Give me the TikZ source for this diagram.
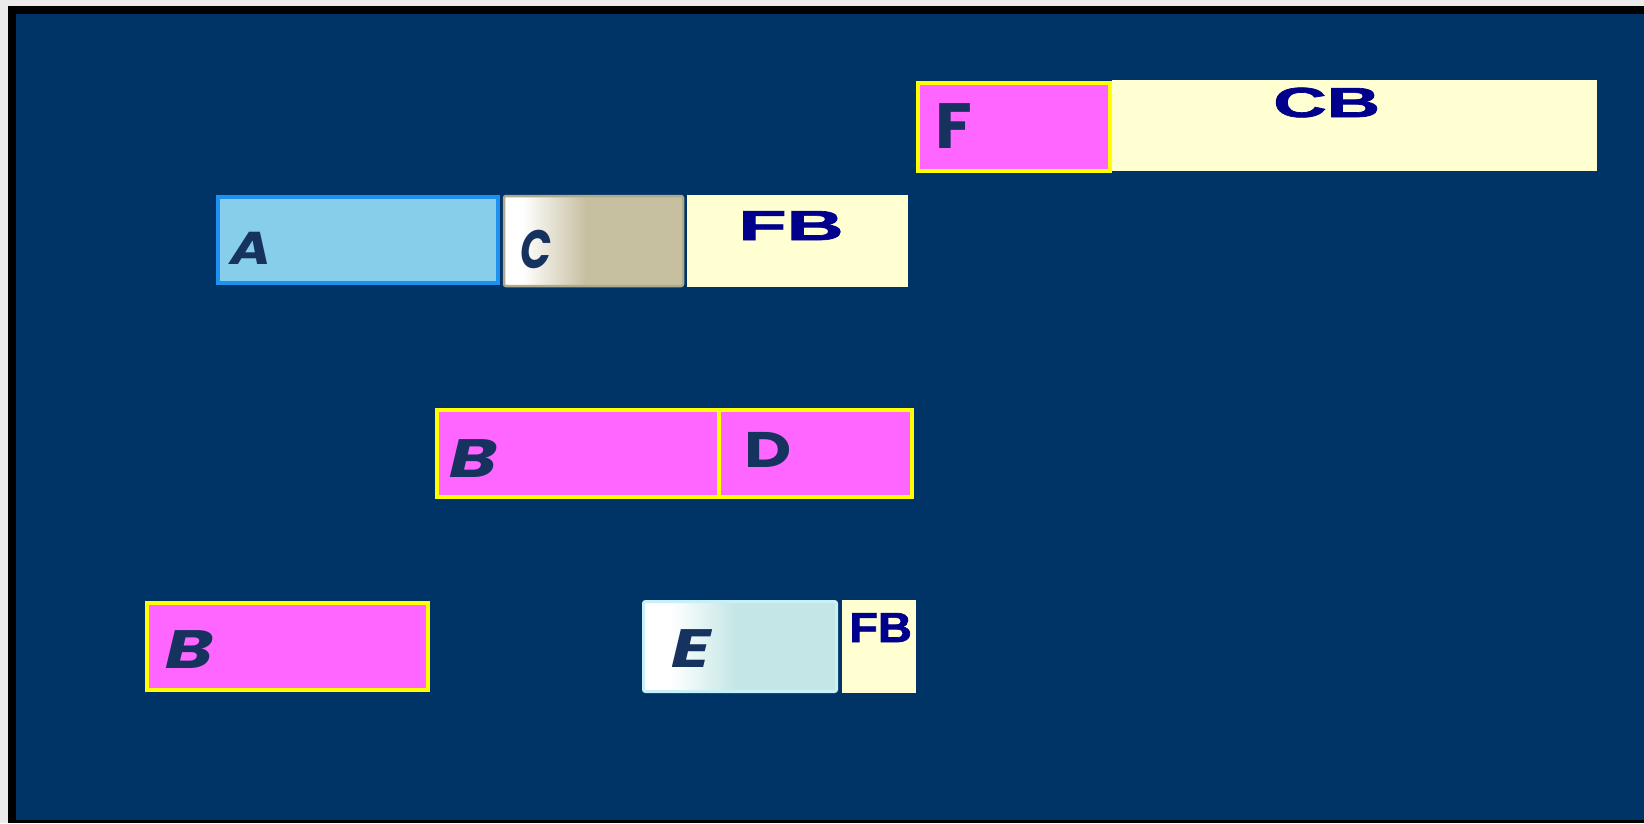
\documentclass[tikz,border=0pt]{standalone}
\usepackage{fontspec}
\setmainfont{Poppins}
\newfontfamily\wide{Liberation Sans}[BoldFeatures={FakeBold=1.6}]
\definecolor{navybg}{RGB}{0,51,102}
\definecolor{frameout}{RGB}{235,235,235}
\definecolor{mag}{RGB}{255,102,255}
\definecolor{yel}{RGB}{255,255,0}
\definecolor{cream}{RGB}{255,255,210}
\definecolor{skyfill}{RGB}{135,206,235}
\definecolor{skyline}{RGB}{30,144,240}
\definecolor{ctan}{RGB}{198,191,160}
\definecolor{ctanline}{RGB}{175,170,140}
\definecolor{ecyan}{RGB}{196,230,230}
\definecolor{ecyanline}{RGB}{200,240,248}
\definecolor{lettercol}{RGB}{22,50,95}
\definecolor{fbcol}{RGB}{0,0,140}
\pgfdeclarehorizontalshading{cshade}{100bp}{color(0bp)=(white); color(25bp)=(white); color(30bp)=(white); color(48bp)=(ctan); color(100bp)=(ctan)}
\pgfdeclarehorizontalshading{eshade}{100bp}{color(0bp)=(white); color(25bp)=(white); color(32bp)=(white); color(49bp)=(ecyan); color(100bp)=(ecyan)}
\tikzset{
  boxbase/.style={rectangle, inner sep=0pt, outer sep=0pt},
  magbox/.style={boxbase, fill=mag, draw=yel, line width=4pt},
  creambox/.style={boxbase, fill=cream},
  abox/.style={boxbase, fill=skyfill, draw=skyline, line width=4pt},
  cbox/.style={boxbase, shading=cshade, draw=ctanline, line width=2.5pt, rounded corners=2pt},
  ebox/.style={boxbase, shading=eshade, draw=ecyanline, line width=3pt, rounded corners=2pt},
  letter/.style={anchor=base west, inner sep=0pt, text=lettercol, font=\fontsize{54}{54}\selectfont\bfseries\itshape},
  uletter/.style={anchor=base west, inner sep=0pt, text=lettercol, font=\fontsize{54}{54}\selectfont\bfseries},
  widetext/.style={anchor=base west, inner sep=0pt, text=fbcol, font=\fontsize{42}{42}\selectfont\wide\bfseries}
}
\begin{document}
\begin{tikzpicture}[x=1pt,y=-1pt]
\useasboundingbox (0,0) rectangle (1644,823);
\fill[frameout] (0,0) rectangle (1644,823);
\fill[black] (8,6) rectangle (1644,823);
\fill[navybg] (16,14) rectangle (1644,820);
% top row
\node[creambox, minimum width=485pt, minimum height=91pt] (cb) at (1354.5,125.5) {};
\node[magbox, minimum width=192pt, minimum height=88pt] (f) at (1014,127) {};
\node[widetext, xscale=1.76] (cbt) at (1273,117) {CB};
\node[uletter, font=\fontsize{64}{64}\selectfont\bfseries, xscale=1.05] (ft) at (935,148) {F};
% second row
\node[abox, minimum width=280pt, minimum height=86pt] (a) at (358,240) {};
\node[cbox, minimum width=179pt, minimum height=90pt] (c) at (593.5,241) {};
\node[creambox, minimum width=221pt, minimum height=92pt] (fb) at (797.5,241) {};
\node[letter, font=\fontsize{46}{46}\selectfont\bfseries\itshape, xscale=1.2] (at) at (230,264) {A};
\node[letter, xscale=0.75] (ct) at (520,268) {C};
\node[widetext, xscale=1.88] (fbt) at (738,240) {FB};
% third row
\node[magbox, minimum width=282pt, minimum height=87pt] (b) at (578,453.5) {};
\node[magbox, minimum width=193pt, minimum height=87pt] (d) at (815.5,453.5) {};
\node[letter, xscale=1.35] (bt) at (449,477) {B};
\node[uletter, font=\fontsize{50}{50}\selectfont\bfseries, xscale=1.3] (dt) at (744,467) {D};
% fourth row
\node[magbox, minimum width=281pt, minimum height=87pt] (b2) at (287.5,646.5) {};
\node[ebox, minimum width=193pt, minimum height=90pt] (e) at (740,646.5) {};
\node[creambox, minimum width=74pt, minimum height=93pt] (fb2) at (879,646.5) {};
\node[letter, xscale=1.35] (b2t) at (165,668) {B};
\node[letter, xscale=1.35] (et) at (671,667) {E};
\node[widetext, xscale=1.12] (fb2t) at (849,642) {FB};
\end{tikzpicture}
\end{document}
